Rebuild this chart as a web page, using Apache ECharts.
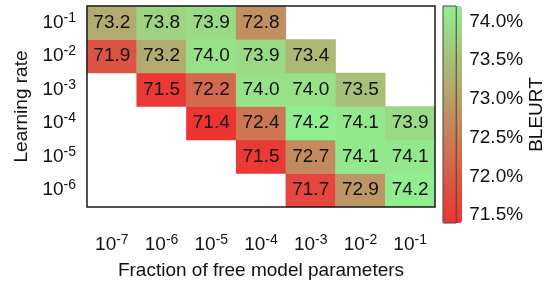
<!DOCTYPE html>
<html>
<head>
<meta charset="utf-8">
<script src="https://cdn.jsdelivr.net/npm/echarts@6/dist/echarts.min.js"></script>
<style>
  html, body { margin: 0; padding: 0; background: #fff; }
  #chart { width: 547px; height: 285px; }
</style>
</head>
<body>
<div id="chart"></div>
<script>
// exponents of the tick labels (10^x)
const fracExp = ["-7", "-6", "-5", "-4", "-3", "-2", "-1"]
const lrExp = ["-6", "-5", "-4", "-3", "-2", "-1"] // bottom -> top

// BLEURT per learning rate, one entry per fraction column (null = no run)
const lr1e1 = [73.2, 73.8, 73.9, 72.8, null, null, null]
const lr1e2 = [71.9, 73.2, 74.0, 73.9, 73.4, null, null]
const lr1e3 = [null, 71.5, 72.2, 74.0, 74.0, 73.5, null]
const lr1e4 = [null, null, 71.4, 72.4, 74.2, 74.1, 73.9]
const lr1e5 = [null, null, null, 71.5, 72.7, 74.1, 74.1]
const lr1e6 = [null, null, null, null, 71.7, 72.9, 74.2]

const colorTicks = [71.5, 72.0, 72.5, 73.0, 73.5, 74.0]
const colorMin = 71.4
const colorMax = 74.2

const rows = [lr1e6, lr1e5, lr1e4, lr1e3, lr1e2, lr1e1]
const cells = []
rows.forEach((row, yi) => {
  row.forEach((v, xi) => {
    if (v != null) cells.push([xi, yi, v])
  })
})

const font = "Liberation Sans"
const powRich = {
  b: { fontSize: 19, fontFamily: font, color: "#111" },
  s: { fontSize: 14, fontFamily: font, color: "#111", padding: [0, 0, 10, 0] },
}
const powFmt = (v) => "{b|10}{s|" + v + "}"

const chart = echarts.init(document.getElementById("chart"))
const option = {
  animation: false,
  textStyle: { fontFamily: font },
  grid: [
    {
      left: 87, top: 6, width: 348, height: 216,
      show: true, borderColor: "#1a1a1a", borderWidth: 1.5,
      backgroundColor: "transparent", z: 10,
    },
    {
      left: 443, top: 6, width: 19, height: 217,
      show: true, borderColor: "#444", borderWidth: 1,
      backgroundColor: "transparent", z: 10,
    },
  ],
  xAxis: [
    {
      type: "category", gridIndex: 0, data: fracExp,
      axisLine: { show: false }, axisTick: { show: false },
      splitLine: { show: false },
      axisLabel: { interval: 0, margin: 26, formatter: powFmt, rich: powRich },
      name: "Fraction of free model parameters",
      nameLocation: "middle", nameGap: 54,
      nameTextStyle: { fontSize: 19, fontFamily: font, color: "#111" },
    },
    {
      type: "value", gridIndex: 1, show: false,
    },
  ],
  yAxis: [
    {
      type: "category", gridIndex: 0, data: lrExp,
      axisLine: { show: false }, axisTick: { show: false },
      splitLine: { show: false },
      axisLabel: { interval: 0, margin: 11, formatter: powFmt, rich: powRich },
      name: "Learning rate",
      nameLocation: "middle", nameGap: 56, nameRotate: 90,
      nameTextStyle: { fontSize: 19, fontFamily: font, color: "#111" },
    },
    {
      type: "value", gridIndex: 1, position: "right",
      min: colorMin, max: colorMax,
      axisLine: { show: false }, axisTick: { show: false },
      splitLine: { show: false },
      axisLabel: {
        margin: 13, fontSize: 19, fontFamily: font, color: "#111",
        customValues: colorTicks,
        formatter: (v) => v.toFixed(1) + "%",
      },
      name: "BLEURT",
      nameLocation: "middle", nameGap: 70, nameRotate: 90,
      nameTextStyle: { fontSize: 19, fontFamily: font, color: "#111" },
    },
  ],
  visualMap: {
    type: "continuous",
    seriesIndex: 0,
    min: colorMin, max: colorMax,
    calculable: false,
    orient: "vertical",
    left: 443, top: 6, padding: 0,
    itemWidth: 19, itemHeight: 217,
    text: null,
    inRange: { color: ["#EE3333", "#90EE90"] },
  },
  series: [
    {
      type: "heatmap",
      xAxisIndex: 0, yAxisIndex: 0,
      data: cells,
      label: {
        show: true, fontSize: 19, fontFamily: font, color: "#111",
        formatter: (p) => p.value[2].toFixed(1),
      },
    },
  ],
}
chart.setOption(option)
</script>
</body>
</html>
